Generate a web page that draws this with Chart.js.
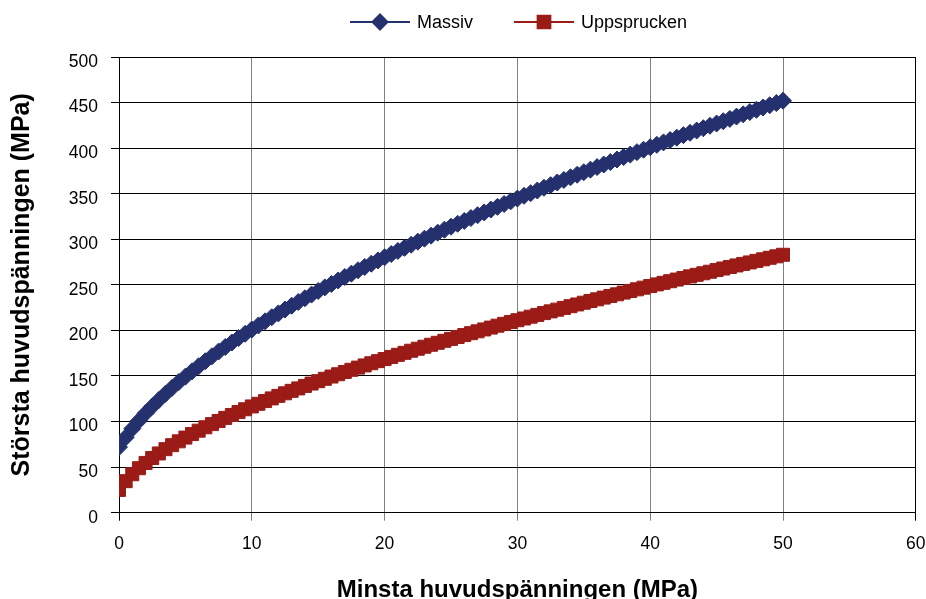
<!DOCTYPE html>
<html lang="sv">
<head>
<meta charset="utf-8">
<title>Största och minsta huvudspänningen</title>
<script src="https://cdn.jsdelivr.net/npm/chart.js@4/dist/chart.umd.min.js"></script>
<style>
    html, body { margin: 0; padding: 0; background: #fff; }
    canvas { display: block; }
</style>
</head>
<body>
<canvas id="grafico" width="926" height="599"></canvas>
<script>
// Minsta huvudspänningen (MPa), x-värden
const sigma3 = [
    0, 0.5, 1, 1.5, 2, 2.5, 3, 3.5, 4, 4.5, 5, 5.5, 6, 6.5, 7, 7.5, 8, 8.5, 9, 9.5,
    10, 10.5, 11, 11.5, 12, 12.5, 13, 13.5, 14, 14.5, 15, 15.5, 16, 16.5, 17, 17.5, 18, 18.5, 19, 19.5,
    20, 20.5, 21, 21.5, 22, 22.5, 23, 23.5, 24, 24.5, 25, 25.5, 26, 26.5, 27, 27.5, 28, 28.5, 29, 29.5,
    30, 30.5, 31, 31.5, 32, 32.5, 33, 33.5, 34, 34.5, 35, 35.5, 36, 36.5, 37, 37.5, 38, 38.5, 39, 39.5,
    40, 40.5, 41, 41.5, 42, 42.5, 43, 43.5, 44, 44.5, 45, 45.5, 46, 46.5, 47, 47.5, 48, 48.5, 49, 49.5,
    50
];

// Största huvudspänningen (MPa) - Massiv
const massiv = [
    72.0, 82.6, 92.2, 100.9, 109.0, 116.5, 123.7, 130.5, 137.0, 143.3, 149.3, 155.1, 160.8, 166.2, 171.6, 176.8, 181.8, 186.7, 191.6, 196.3,
    201.0, 205.5, 210.0, 214.4, 218.7, 222.9, 227.1, 231.2, 235.3, 239.3, 243.3, 247.2, 251.0, 254.8, 258.6, 262.3, 266.0, 269.6, 273.2, 276.8,
    280.3, 283.8, 287.2, 290.6, 294.0, 297.4, 300.7, 304.0, 307.3, 310.5, 313.8, 317.0, 320.1, 323.3, 326.4, 329.5, 332.6, 335.6, 338.7, 341.7,
    344.7, 347.7, 350.6, 353.5, 356.5, 359.4, 362.3, 365.1, 368.0, 370.8, 373.6, 376.4, 379.2, 382.0, 384.7, 387.5, 390.2, 392.9, 395.6, 398.3,
    401.0, 403.6, 406.3, 408.9, 411.5, 414.2, 416.8, 419.3, 421.9, 424.5, 427.0, 429.6, 432.1, 434.6, 437.1, 439.6, 442.1, 444.6, 447.1, 449.5,
    452.0
];

// Största huvudspänningen (MPa) - Uppsprucken
const uppsprucken = [
    25.0, 34.6, 42.2, 48.8, 54.6, 60.0, 65.0, 69.7, 74.1, 78.3, 82.4, 86.3, 90.0, 93.7, 97.2, 100.6, 104.0, 107.2, 110.4, 113.5,
    116.6, 119.5, 122.5, 125.4, 128.2, 131.0, 133.7, 136.4, 139.1, 141.7, 144.3, 146.9, 149.4, 151.9, 154.4, 156.8, 159.2, 161.6, 164.0, 166.3,
    168.6, 170.9, 173.2, 175.4, 177.7, 179.9, 182.1, 184.3, 186.4, 188.6, 190.7, 192.8, 194.9, 197.0, 199.0, 201.1, 203.1, 205.2, 207.2, 209.2,
    211.2, 213.1, 215.1, 217.0, 219.0, 220.9, 222.8, 224.7, 226.6, 228.5, 230.4, 232.3, 234.1, 236.0, 237.8, 239.6, 241.5, 243.3, 245.1, 246.9,
    248.7, 250.5, 252.2, 254.0, 255.8, 257.5, 259.3, 261.0, 262.7, 264.4, 266.2, 267.9, 269.6, 271.3, 273.0, 274.6, 276.3, 278.0, 279.7, 281.3,
    283.0
];

const serieNamn = ['Massiv', 'Uppsprucken'];
const xTitel = 'Minsta huvudspänningen (MPa)';
const yTitel = 'Största huvudspänningen (MPa)';
const xMin = 0, xMax = 60, xSteg = 10;
const yMin = 0, yMax = 500, ySteg = 50;

const FONT = '"Liberation Sans", Arial, Helvetica, sans-serif';
const BLA = '#25306e';
const ROD = '#9b1b17';

function punkter(ys) {
    return ys.map((y, i) => ({ x: sigma3[i], y: y }));
}

// Legend med linje + markör, som i Excel
const linjeLegend = {
    id: 'linjeLegend',
    afterDraw(chart) {
        const ctx = chart.ctx;
        const poster = [{ ds: 0, x: 350 }, { ds: 1, x: 514 }];
        const y = 22;
        ctx.save();
        poster.forEach(p => {
            const ds = chart.data.datasets[p.ds];
            ctx.strokeStyle = ds.borderColor;
            ctx.lineWidth = 2;
            ctx.beginPath();
            ctx.moveTo(p.x, y);
            ctx.lineTo(p.x + 60, y);
            ctx.stroke();
            ctx.fillStyle = ds.backgroundColor;
            Chart.helpers.drawPoint(ctx, {
                pointStyle: ds.pointStyle,
                radius: ds.pointStyle === 'rect' ? 9 : 7.5,
                borderWidth: 1,
                rotation: 0
            }, p.x + 30, y);
            ctx.fillStyle = '#000';
            ctx.font = '18px ' + FONT;
            ctx.textBaseline = 'middle';
            ctx.textAlign = 'left';
            ctx.fillText(ds.label, p.x + 67, y + 1);
        });
        ctx.restore();
    }
};

const ctx = document.getElementById('grafico').getContext('2d');
new Chart(ctx, {
    type: 'scatter',
    data: {
        datasets: [{
            label: serieNamn[0],
            data: punkter(massiv),
            showLine: true,
            borderColor: BLA,
            backgroundColor: BLA,
            borderWidth: 2,
            pointStyle: 'rectRot',
            pointRadius: 8.5,
            pointBorderWidth: 1
        }, {
            label: serieNamn[1],
            data: punkter(uppsprucken),
            showLine: true,
            borderColor: ROD,
            backgroundColor: ROD,
            borderWidth: 2,
            pointStyle: 'rect',
            pointRadius: 9.2,
            pointBorderWidth: 1
        }]
    },
    options: {
        responsive: false,
        animation: false,
        devicePixelRatio: 1,
        layout: {
            padding: { top: 57, right: 8, bottom: 0, left: 0 }
        },
        plugins: {
            legend: { display: false },
            tooltip: { enabled: false }
        },
        scales: {
            x: {
                type: 'linear',
                min: xMin,
                max: xMax,
                border: { color: '#000', width: 1 },
                grid: {
                    color: c => (c.tick && (c.tick.value === xMin || c.tick.value === xMax)) ? '#000' : '#808080',
                    lineWidth: 1,
                    tickLength: 8
                },
                ticks: {
                    stepSize: xSteg,
                    color: '#000',
                    padding: 13,
                    maxRotation: 0,
                    font: { family: FONT, size: 17.5 }
                },
                title: {
                    display: true,
                    text: xTitel,
                    color: '#000',
                    padding: { top: 0, bottom: -3 },
                    font: { family: FONT, size: 24, weight: 'bold', lineHeight: 1 }
                },
                afterFit(scale) {
                    scale.height = 86.3;
                    scale.paddingLeft = 0;
                    scale.paddingRight = 0;
                }
            },
            y: {
                min: yMin,
                max: yMax,
                border: { color: '#000', width: 1 },
                grid: {
                    color: '#000',
                    lineWidth: 1,
                    tickLength: 8
                },
                ticks: {
                    stepSize: ySteg,
                    color: '#000',
                    padding: 13,
                    labelOffset: 5,
                    font: { family: FONT, size: 17.5 }
                },
                title: {
                    display: true,
                    text: yTitel,
                    color: '#000',
                    padding: { top: 10, bottom: 0 },
                    font: { family: FONT, size: 25, weight: 'bold', lineHeight: 1 }
                },
                afterFit(scale) {
                    scale.width = 119;
                    scale.paddingTop = 0;
                    scale.paddingBottom = 0;
                }
            }
        }
    },
    plugins: [linjeLegend]
});
</script>
</body>
</html>
